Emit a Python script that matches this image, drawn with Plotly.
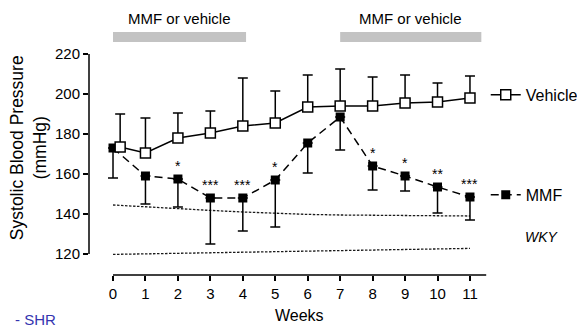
import plotly.graph_objects as go

weeks = list(range(12))
weeks_vehicle = [0.22, 1, 2, 3, 4, 5, 6, 7, 8, 9, 10, 11]
vehicle = [173.5, 170.5, 178, 180.5, 184, 185.5, 193.5, 194, 194, 195.5, 196, 198]
vehicle_top = [190, 188, 190.5, 191.5, 208, 201.5, 209.5, 212.5, 208.5, 209.5, 205.5, 209]
mmf = [173, 159, 157.5, 148, 148, 157, 175.5, 188.5, 164, 159, 153.5, 148.5]
mmf_bottom = [158, 145, 143.5, 125, 131.5, 133.5, 160.5, 172, 152, 151.5, 140.5, 137]
stars = ["", "", "*", "***", "***", "*", "", "", "*", "*", "**", "***"]
wky_upper = [144.5, 143.5, 142.5, 141.8, 141, 140.3, 139.8, 139.5, 139.3, 139.2, 139.1, 139]
wky_lower = [119.8, 120.1, 120.4, 120.7, 121, 121.3, 121.6, 121.9, 122.2, 122.4, 122.6, 122.8]
treatment_periods = [(0, 4.1), (7, 11.35)]
yticks = [120, 140, 160, 180, 200, 220]

FONT = "Arial, Liberation Sans, sans-serif"

fig = go.Figure()

for wl in (wky_upper, wky_lower):
    fig.add_trace(go.Scatter(x=weeks, y=wl, mode="lines",
                             line=dict(color="#1a1a1a", width=1.3, dash="2.5px,1.5px"),
                             showlegend=False, hoverinfo="skip"))

fig.add_trace(go.Scatter(
    x=weeks, y=mmf, mode="lines+markers", name="MMF",
    line=dict(color="black", width=1.5, dash="8px,5px"),
    marker=dict(symbol="square", size=9, color="black"),
    error_y=dict(type="data", symmetric=False,
                 array=[0] * len(mmf),
                 arrayminus=[m - b for m, b in zip(mmf, mmf_bottom)],
                 color="black", thickness=1.5, width=5),
    legend="legend2"))

fig.add_trace(go.Scatter(
    x=weeks_vehicle, y=vehicle, mode="lines+markers", name="Vehicle",
    line=dict(color="black", width=1.5),
    marker=dict(symbol="square", size=10, color="white", line=dict(color="black", width=1.5)),
    error_y=dict(type="data", symmetric=False,
                 array=[t - v for t, v in zip(vehicle_top, vehicle)],
                 arrayminus=[0] * len(vehicle),
                 color="black", thickness=1.5, width=5),
    legend="legend"))

for w, m, s in zip(weeks, mmf, stars):
    if s:
        fig.add_annotation(x=w, y=m, text=s, showarrow=False, yshift=13,
                           font=dict(size=14, color="black", family=FONT))

for x0, x1 in treatment_periods:
    fig.add_shape(type="rect", x0=x0, x1=x1, y0=226, y1=231, xref="x", yref="y",
                  fillcolor="#c3c3c3", line=dict(width=0))
    fig.add_annotation(x=(x0 + x1) / 2, y=238, text="MMF or vehicle", showarrow=False,
                       font=dict(size=15, color="black", family=FONT))

# detached axis lines
fig.add_shape(type="line", xref="paper", yref="y", x0=0, x1=0, y0=120, y1=220,
              line=dict(color="black", width=1.5))
fig.add_shape(type="line", xref="x", yref="paper", x0=0, x1=11.5, y0=0, y1=0,
              line=dict(color="black", width=1.5))

fig.add_annotation(xref="paper", yref="paper", x=-0.125, y=0.487, textangle=-90,
                   xanchor="center", yanchor="middle",
                   text="Systolic Blood Pressure<br>(mmHg)", showarrow=False,
                   font=dict(size=17.5, color="black", family=FONT))
fig.add_annotation(xref="x", yref="paper", x=5.76, y=-0.157, text="Weeks", showarrow=False,
                   xanchor="center", yanchor="middle",
                   font=dict(size=16, color="black", family=FONT))
fig.add_annotation(xref="paper", yref="paper", x=0.908, y=0.146, text="<i>WKY</i>",
                   showarrow=False, xanchor="left", yanchor="middle",
                   font=dict(size=14, color="black", family=FONT))
fig.add_annotation(xref="paper", yref="paper", x=-0.159, y=-0.172, text="- SHR",
                   showarrow=False, xanchor="left", yanchor="middle",
                   font=dict(size=15, color="#3434b0", family=FONT))

fig.update_layout(
    width=577, height=327,
    margin=dict(l=89, r=10, t=14, b=52, autoexpand=False),
    paper_bgcolor="white", plot_bgcolor="white",
    font=dict(family=FONT, color="black"),
    xaxis=dict(range=[-0.74, 13.99], tickvals=weeks, showgrid=False, zeroline=False,
               showline=False, ticks="outside", ticklen=5, tickwidth=1.5, tickcolor="black",
               tickfont=dict(size=15)),
    yaxis=dict(range=[109.5, 240], tickvals=yticks, showgrid=False, zeroline=False,
               showline=False, ticks="outside", ticklen=5, tickwidth=1.5, tickcolor="black",
               tickfont=dict(size=15)),
    legend=dict(x=0.83, y=0.69, xanchor="left", yanchor="middle", bgcolor="rgba(0,0,0,0)",
                font=dict(size=16, family=FONT), itemwidth=30),
    legend2=dict(x=0.83, y=0.307, xanchor="left", yanchor="middle", bgcolor="rgba(0,0,0,0)",
                 font=dict(size=16, family=FONT), itemwidth=30),
)

fig.write_html("out.html", config={"displayModeBar": False},
               post_script="document.body.style.margin='0';document.body.style.overflow='hidden';")
